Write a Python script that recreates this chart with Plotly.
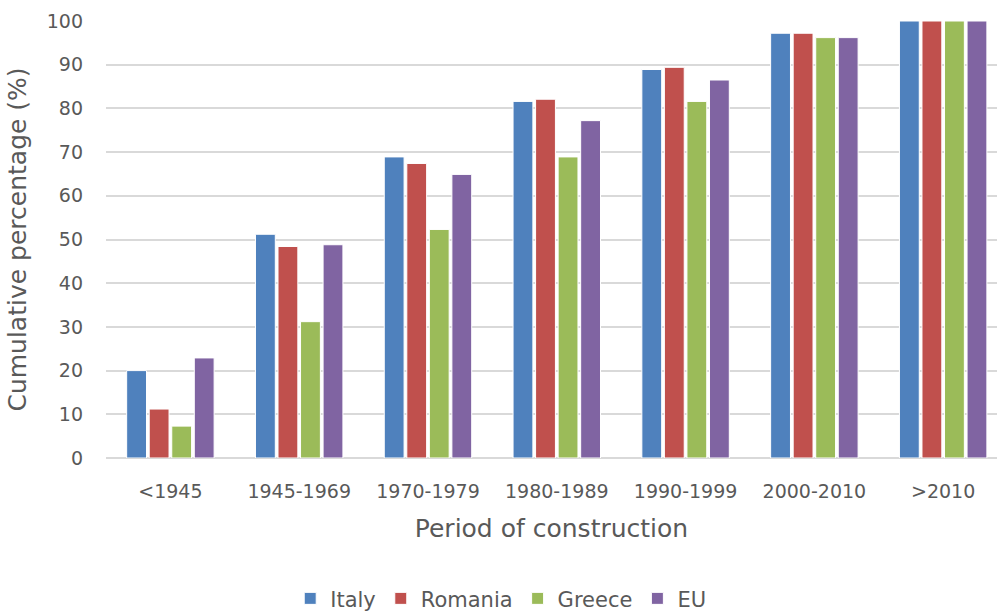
import plotly.graph_objects as go

periods = ["<1945", "1945-1969", "1970-1979", "1980-1989", "1990-1999", "2000-2010", ">2010"]
italy = [20.0, 51.2, 68.9, 81.6, 88.9, 97.2, 100]
romania = [11.2, 48.4, 67.4, 82.1, 89.4, 97.2, 100]
greece = [7.3, 31.2, 52.3, 68.9, 81.6, 96.2, 100]
eu = [22.9, 48.8, 64.9, 77.2, 86.5, 96.2, 100]

series = [
    ("Italy", italy, "#4F81BD"),
    ("Romania", romania, "#C0504D"),
    ("Greece", greece, "#9BBB59"),
    ("EU", eu, "#8064A2"),
]

font_family = "DejaVu Sans, Lato, sans-serif"
grey = "#595959"

fig = go.Figure()
for name, vals, color in series:
    fig.add_trace(go.Bar(
        x=periods, y=vals, name=name,
        marker=dict(color=color, line=dict(color="white", width=1)),
    ))

fig.update_layout(
    width=997, height=612,
    margin=dict(l=106, r=0, t=21, b=154, autoexpand=False),
    paper_bgcolor="white", plot_bgcolor="white",
    barmode="group", bargap=0.30, bargroupgap=0.12,
    font=dict(family=font_family, color=grey),
    legend=dict(
        orientation="h", x=0.443, xanchor="center", y=-0.322, yanchor="middle",
        font=dict(size=21, color=grey), itemwidth=30, traceorder="normal",
    ),
    xaxis=dict(
        range=[-0.5, 6.418], automargin=False,
        tickfont=dict(size=19, color=grey),
        title=dict(text="Period of construction", font=dict(size=25, color=grey), standoff=18),
        showline=False, ticks="", ticklabelstandoff=20,
    ),
    yaxis=dict(
        range=[0, 100], dtick=10, automargin=False,
        tickfont=dict(size=19, color=grey),
        title=dict(text="Cumulative percentage (%)", font=dict(size=25, color=grey), standoff=12),
        showgrid=True, gridcolor="#D9D9D9", gridwidth=1.5,
        zeroline=True, zerolinecolor="#D9D9D9", zerolinewidth=1.5,
        ticks="", ticklabelstandoff=22,
    ),
)

fig.write_html("out.html")
